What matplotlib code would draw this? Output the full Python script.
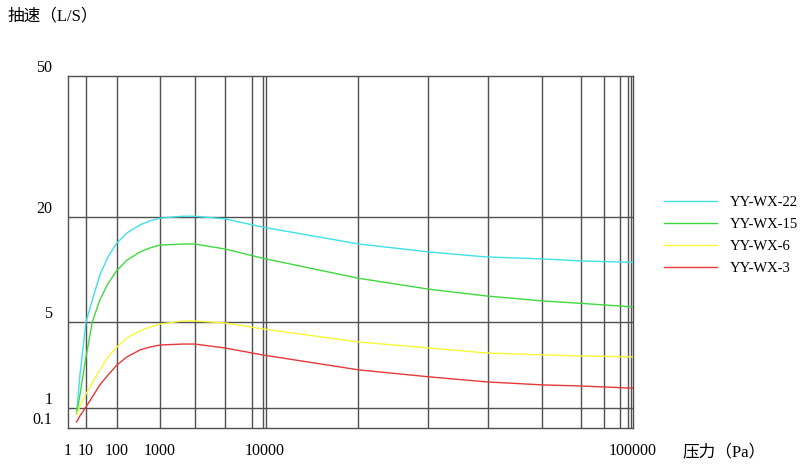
import numpy as np
import matplotlib
matplotlib.use('Agg')
from matplotlib import pyplot as plt
from matplotlib import transforms

plt.rcParams['font.family'] = ['Liberation Serif', 'Noto Sans CJK SC', 'DejaVu Sans']

# data
pressure = [3, 4.6, 10, 16, 28, 51, 100, 170, 340, 585, 1000, 1650, 2150, 4200, 9500,
            18000, 28000, 40000, 57000, 72000, 100000]
yy_wx_22 = [0.56, 1.85, 5.0, 6.7, 9.3, 11.8, 14.2, 16.2, 18.0, 19.0, 19.7, 20.1, 20.1,
            19.5, 17.5, 14.0, 12.6, 11.8, 11.5, 11.2, 11.0]
yy_wx_15 = [0.50, 1.28, 2.6, 5.0, 6.7, 8.3, 9.9, 11.3, 12.6, 13.3, 13.8, 14.0, 14.0,
            13.1, 11.6, 8.9, 7.7, 7.05, 6.6, 6.4, 6.1]
yy_wx_6 = [0.45, 1.04, 1.30, 1.60, 2.04, 2.6, 3.13, 3.71, 4.23, 4.55, 4.81, 5.07, 5.07,
           4.91, 4.39, 3.44, 3.07, 2.80, 2.70, 2.65, 2.60]
yy_wx_3 = [0.20, 0.40, 1.02, 1.23, 1.54, 1.85, 2.24, 2.60, 2.96, 3.13, 3.25, 3.31, 3.31,
           3.07, 2.70, 2.04, 1.79, 1.63, 1.54, 1.51, 1.45]

series = [yy_wx_22, yy_wx_15, yy_wx_6, yy_wx_3]
names = ['YY-WX-22', 'YY-WX-15', 'YY-WX-6', 'YY-WX-3']
colors = ['#40e0e8', '#40d840', '#f8f838', '#e83838']

x_ticks = [1, 10, 100, 1000, 10000, 100000]
x_labels = ['1', '10', '100', '1000', '10000', '100000']
y_ticks = [0.1, 1, 5, 20, 50]
y_labels = ['0.1', '1', '5', '20', '50']

# the drawing uses uneven spacing between decades, so build scales for it
x_log = np.log10(x_ticks)
x_pos = [0, 18, 49, 92, 197, 565]
y_log = np.log10(y_ticks)
y_pos = [0, 20, 106, 211, 352]


def fwd(logs, pos):
    return lambda v: np.interp(np.log10(np.clip(v, 1e-9, None)), logs, pos)


def inv(logs, pos):
    return lambda p: 10 ** np.interp(p, pos, logs)


fig = plt.figure(figsize=(8, 4.69), dpi=100)
ax = fig.add_axes([68 / 800, 1 - 428 / 469, 565 / 800, 352 / 469])
ax.set_xscale('function', functions=(fwd(x_log, x_pos), inv(x_log, x_pos)))
ax.set_yscale('function', functions=(fwd(y_log, y_pos), inv(y_log, y_pos)))
ax.set_xlim(1, 100000)
ax.set_ylim(0.1, 50)

grid_c = '#505050'
# vertical rulings of the original sheet (axes fraction)
vgrid = [0.0319, 0.0867, 0.1628, 0.2248, 0.2779, 0.3257, 0.3451, 0.3504,
         0.5133, 0.6372, 0.7434, 0.8389, 0.9080, 0.9487, 0.9770, 0.9912, 0.9965]
ax.vlines(vgrid, 0, 1, transform=ax.transAxes, color=grid_c, lw=1.0, zorder=1)
for v in [1, 5, 20]:
    ax.axhline(v, color=grid_c, lw=1.0, zorder=1)
for s in ax.spines.values():
    s.set_color(grid_c)
    s.set_linewidth(1.0)

for ys, name, c in zip(series, names, colors):
    ax.plot(pressure, ys, color=c, lw=1.0, label=name, zorder=3)

ax.set_xticks(x_ticks)
ax.set_xticklabels(x_labels, fontsize=11.5)
ax.xaxis.set_minor_locator(matplotlib.ticker.NullLocator())
ax.yaxis.set_minor_locator(matplotlib.ticker.NullLocator())
ax.tick_params(axis='x', length=0, pad=11)
ax.set_yticks(y_ticks)
ax.set_yticklabels([])
ax.tick_params(axis='y', length=0)
ylab_tr = transforms.blended_transform_factory(ax.transAxes, ax.transData)
for v, t in zip(y_ticks, y_labels):
    ax.text(-0.028, v, t, transform=ylab_tr, ha='right', va='bottom', fontsize=11.5)

fig.text(7 / 800, 1 - 16 / 469, '抽速（L/S）', fontsize=12, va='center', ha='left')
fig.text(682 / 800, 1 - 452 / 469, '压力（Pa）', fontsize=12, va='center', ha='left')

ax.legend(loc='upper left', bbox_to_anchor=(664 / 800, 1 - 196 / 469),
          bbox_transform=fig.transFigure, frameon=False, fontsize=10.5,
          handlelength=3.6, handletextpad=0.9, labelspacing=0.6,
          borderpad=0, borderaxespad=0)

fig.savefig('out.png', dpi=100)
